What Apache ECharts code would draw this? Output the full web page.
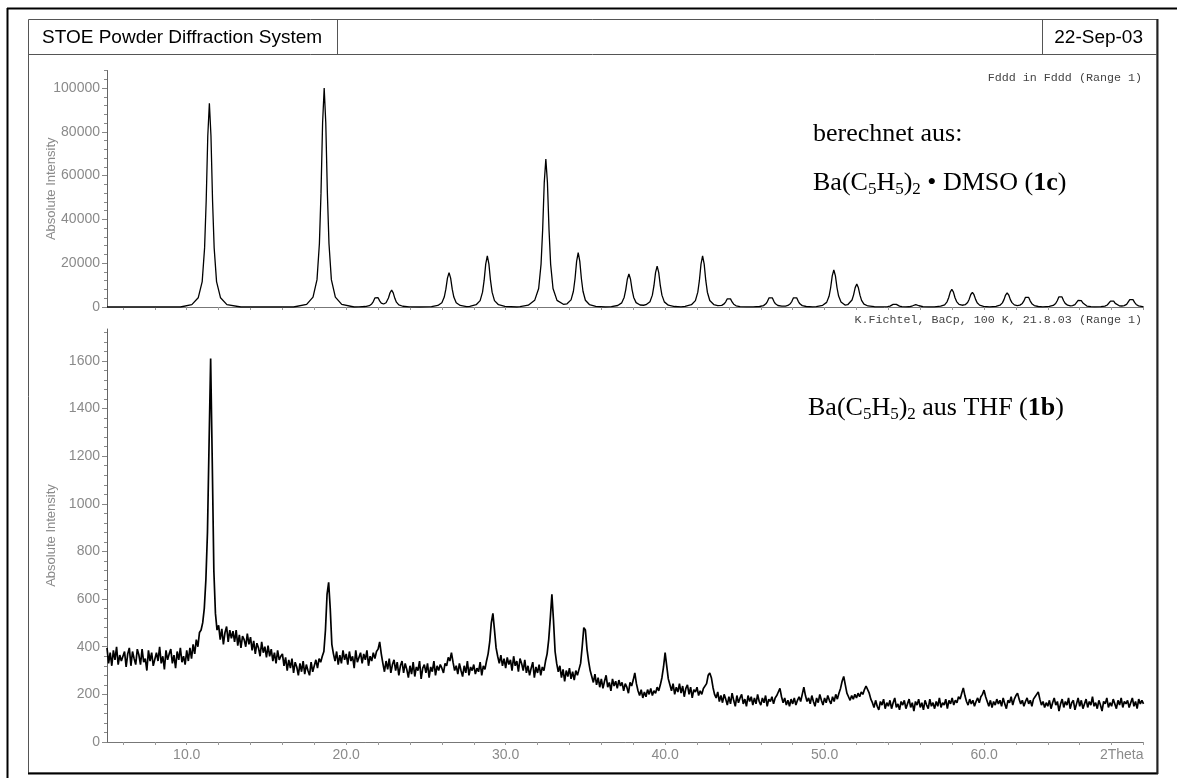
<!DOCTYPE html>
<html>
<head>
<meta charset="utf-8">
<title>STOE Powder Diffraction System</title>
<script src="https://cdn.jsdelivr.net/npm/echarts@6.0.0/dist/echarts.min.js"></script>
<style>
html, body { margin: 0; padding: 0; background: #fff; }
#main { width: 1177px; height: 778px; }
</style>
</head>
<body>
<div id="main"></div>
<script>
// 2Theta range and tick labels
var thetaMin = 5, thetaMax = 70;
var xLabelValues = [10, 20, 30, 40, 50, 60, 70];
var yLabelsTop = [0, 20000, 40000, 60000, 80000, 100000];
var yLabelsBottom = [0, 200, 400, 600, 800, 1000, 1200, 1400, 1600];
var yMaxTop = 108000, yMaxBottom = 1734;

// berechnet (Fddd in Fddd): [2Theta, intensity]
var calcPattern = [
  [5,0],[9.6,0],
  [10.32,1100],[10.72,4200],[10.97,11600],[11.12,27000],[11.22,48400],[11.32,78100],[11.42,93000],[11.52,78100],[11.62,48400],[11.72,27000],[11.87,11600],[12.12,4200],[12.52,1100],[13.4,0],
  [16.7,0],[17.52,1200],[17.92,4500],[18.17,12500],[18.32,29000],[18.42,52000],[18.52,84000],[18.62,100000],[18.72,84000],[18.82,52000],[18.92,29000],[19.07,12500],[19.32,4500],[19.72,1200],[20.5,0],
  [20.8,60],[21.2,220],[21.45,600],[21.6,1390],[21.7,2500],[21.8,4140],[21.9,4950],[22.0,4240],[22.1,2800],[22.2,1810],[22.35,1360],[22.5,1940],[22.65,4140],[22.75,6510],[22.85,7690],[22.95,6440],[23.05,3950],[23.15,2200],[23.3,950],[23.55,340],[23.95,90],[24.6,0],
  [25.35,190],[25.75,710],[26.0,1960],[26.15,4550],[26.25,8160],[26.35,13190],[26.45,15700],[26.55,13190],[26.65,8160],[26.75,4550],[26.9,1960],[27.15,710],[27.55,190],
  [27.75,280],[28.15,1050],[28.4,2910],[28.55,6760],[28.65,12120],[28.75,19570],[28.85,23300],[28.95,19570],[29.05,12120],[29.15,6760],[29.3,2910],[29.55,1050],[29.95,280],[30.7,0],
  [30.9,200],[31.42,810],[31.82,3040],[32.07,8450],[32.22,19600],[32.32,35150],[32.42,56780],[32.52,67600],[32.62,56780],[32.72,35150],[32.82,19600],[32.97,8450],[33.22,3040],[33.62,1230],
  [33.85,1460],[34.1,3240],[34.25,7190],[34.35,12900],[34.45,20830],[34.55,24800],[34.65,20830],[34.75,12900],[34.85,7190],[35.0,3100],[35.25,1120],[35.65,300],[36.25,0],
  [36.63,180],[37.03,680],[37.28,1890],[37.43,4380],[37.53,7850],[37.63,12680],[37.73,15100],[37.83,12680],[37.93,7850],[38.03,4380],[38.18,2000],[38.43,920],[38.65,800],
  [38.8,1040],[39.05,2420],[39.2,5420],[39.3,9720],[39.4,15710],[39.5,18700],[39.6,15710],[39.7,9720],[39.8,5420],[39.95,2340],[40.2,840],[40.6,220],[41.0,60],
  [41.25,280],[41.65,1050],[41.9,2910],[42.05,6760],[42.15,12120],[42.25,19570],[42.35,23300],[42.45,19570],[42.55,12120],[42.65,6760],[42.8,2950],[43.05,1140],[43.3,660],
  [43.55,760],[43.7,1400],[43.8,2370],[43.9,3750],[44.0,4400],[44.1,3700],[44.2,2290],[44.3,1280],[44.45,550],[44.7,200],[45.1,50],
  [45.52,60],[45.92,225],[46.17,625],[46.32,1450],[46.42,2600],[46.52,4200],[46.62,5000],[46.72,4200],[46.82,2600],[46.92,1450],[47.07,690],[47.32,375],
  [47.55,440],[47.7,690],[47.85,1480],[47.95,2600],[48.05,4200],[48.15,5000],[48.25,4200],[48.35,2600],[48.45,1450],[48.6,625],[48.85,225],[49.25,60],
  [49.48,200],[49.88,760],[50.13,2110],[50.28,4900],[50.38,8790],[50.48,14200],[50.58,16900],[50.68,14200],[50.78,8790],[50.88,5020],[51.03,2290],[51.28,900],
  [51.45,1050],[51.57,1500],[51.72,3200],[51.82,5560],[51.92,8850],[52.02,10490],[52.12,8740],[52.22,5410],[52.32,3020],[52.47,1300],[52.72,470],[53.12,125],[53.5,20],
  [53.7,60],[53.95,175],[54.1,400],[54.2,730],[54.3,1180],[54.4,1400],[54.5,1180],[54.6,730],[54.7,400],[54.85,175],[55.1,70],
  [55.3,110],[55.42,320],[55.52,570],[55.62,920],[55.72,1100],[55.82,920],[55.92,570],[56.02,320],[56.17,140],[56.5,30],
  [56.88,100],[57.28,365],[57.53,1010],[57.68,2350],[57.78,4210],[57.88,6800],[57.98,8100],[58.08,6800],[58.18,4210],[58.28,2460],[58.43,1200],[58.62,800],
  [58.82,1070],[58.97,2080],[59.07,3580],[59.17,5710],[59.27,6700],[59.37,5630],[59.47,3480],[59.57,1940],[59.72,840],[59.97,300],[60.35,80],
  [60.75,290],[61.0,810],[61.15,1890],[61.25,3380],[61.35,5460],[61.45,6500],[61.55,5460],[61.65,3380],[61.75,1990],[61.9,970],[62.08,660],
  [62.25,850],[62.4,1640],[62.5,2790],[62.6,4430],[62.7,5200],[62.8,4370],[62.9,2700],[63.0,1510],[63.15,650],[63.4,230],[63.69,80],
  [64.09,250],[64.34,690],[64.49,1600],[64.59,2860],[64.69,4620],[64.79,5500],[64.89,4620],[64.99,2860],[65.09,1660],[65.24,830],[65.42,550],
  [65.55,660],[65.7,1120],[65.8,1890],[65.9,2990],[66.0,3500],[66.1,2940],[66.2,1820],[66.3,1015],[66.45,440],[66.7,160],[66.93,60],
  [67.33,145],[67.58,400],[67.73,930],[67.83,1660],[67.93,2690],[68.03,3200],[68.13,2690],[68.23,1660],[68.33,1000],[68.48,560],[68.64,450],
  [68.79,630],[68.94,1220],[69.04,2120],[69.14,3360],[69.24,4000],[69.34,3360],[69.44,2080],[69.54,1160],[69.69,500],[69.94,180],[70,150]
];

// gemessen (K.Fichtel, BaCp, 100 K): counts every 0.1 deg from 5.0 to 70.0
var obsStart = 5.0, obsStep = 0.1;
var obsCounts = [
  395,330,375,320,385,345,400,325,365,340,
  340,380,315,370,395,320,380,350,325,390,
  365,325,390,335,350,300,385,340,375,320,
  325,375,340,400,330,360,305,385,345,370,
  390,330,365,310,380,345,395,335,360,325,
  385,340,395,350,410,370,430,400,460,470,
  500,560,680,880,1250,1610,1180,720,540,470,
  490,430,475,410,460,485,420,470,435,465,
  420,470,405,450,395,445,430,400,455,410,
  440,385,425,370,415,395,360,420,375,400,
  355,405,360,390,340,375,330,385,345,360,
  370,320,355,300,345,310,350,290,335,315,
  280,330,295,340,285,325,300,280,335,295,
  320,345,310,350,335,360,380,470,620,670,
  560,410,370,340,380,325,365,330,385,345,
  370,325,380,340,360,310,385,335,355,375,
  330,370,345,385,320,360,340,375,350,380,
  390,420,370,330,295,340,305,350,290,325,
  345,300,335,280,320,340,290,330,305,270,
  320,285,335,275,315,300,340,265,310,325,
  290,330,270,315,295,340,280,320,300,325,
  310,290,330,320,355,340,375,335,300,320,
  285,330,300,275,320,290,340,280,315,300,
  325,285,310,295,335,280,320,305,340,370,
  420,500,540,470,395,360,330,365,320,350,
  310,355,325,345,300,360,320,340,295,350,
  330,300,345,290,320,280,310,335,270,315,
  290,325,280,315,300,340,370,430,520,620,
  510,380,330,295,320,270,305,255,300,275,
  310,265,295,260,300,280,305,330,400,480,
  470,390,340,300,275,250,285,240,270,230,
  265,225,255,280,230,250,215,265,235,255,
  225,260,235,250,215,245,230,205,250,235,
  260,290,245,215,195,220,185,210,190,220,
  200,225,195,215,205,230,215,240,270,315,
  375,320,265,240,215,245,200,230,210,245,
  205,235,190,225,240,200,230,185,220,210,
  230,195,215,200,225,220,245,280,290,270,
  230,200,185,210,170,195,165,200,180,155,
  190,160,205,175,150,195,165,185,200,160,
  180,150,195,170,190,155,185,160,200,170,
  155,185,165,195,150,180,170,190,160,185,
  195,210,225,190,165,185,155,175,150,180,
  160,185,155,175,190,170,200,230,195,170,
  185,160,195,170,150,185,165,200,175,155,
  185,165,195,175,160,190,170,200,180,205,
  225,255,275,240,205,190,175,195,180,200,
  185,205,190,210,200,220,235,230,205,180,
  165,145,175,150,135,170,155,180,140,165,
  150,175,140,165,185,145,160,135,170,155,
  175,140,160,180,145,165,130,170,155,180,
  145,165,135,175,155,140,180,150,165,140,
  170,150,185,145,165,155,180,140,175,160,
  185,155,175,165,190,180,205,227,195,170,
  155,180,160,175,150,170,185,165,190,200,
  218,190,170,150,175,145,170,155,180,160,
  175,150,185,160,140,175,165,190,155,180,
  195,205,180,160,175,150,170,185,160,175,
  150,180,190,200,210,180,155,170,145,165,
  150,175,140,165,185,155,170,130,160,180,
  145,170,155,185,140,165,175,135,160,185,
  150,175,140,160,180,145,170,155,190,150,
  165,140,175,155,130,170,160,185,145,165,
  150,180,160,140,175,155,185,145,170,160,
  175,145,165,185,150,170,140,180,160,175,
  160
];

var obsData = obsCounts.map(function (v, i) {
  return [Number((obsStart + i * obsStep).toFixed(2)), v];
});

// kleine Ticks
var xMinorTicks = [];
for (var t = 6; t <= thetaMax; t += 2) xMinorTicks.push(t);
var yMinorTop = [];
for (var a = 0; a <= yMaxTop; a += 4000) yMinorTop.push(a);
var yMinorBottom = [];
for (var b = 0; b <= 1720; b += 40) yMinorBottom.push(b);

var grey = '#8a8a8a';
var sans = 'Liberation Sans';
var serif = 'Liberation Serif';
var mono = 'Liberation Mono';

function xAxisFor(idx, withLabels) {
  return {
    gridIndex: idx, type: 'value', min: thetaMin, max: thetaMax,
    axisLine: { lineStyle: { color: '#777', width: 1 } },
    axisTick: { customValues: xMinorTicks, length: 3, lineStyle: { color: '#999' } },
    axisLabel: withLabels ? {
      customValues: xLabelValues,
      formatter: function (v) { return v === 70 ? '2Theta' : v.toFixed(1); },
      color: grey, fontSize: 14, fontFamily: sans, margin: 6, alignMaxLabel: 'right'
    } : { show: false },
    splitLine: { show: false }
  };
}

function yAxisMinor(idx, max, minorTicks, labels) {
  return {
    gridIndex: idx, type: 'value', position: 'left', min: 0, max: max,
    axisLine: { show: true, lineStyle: { color: '#666', width: 1 } },
    axisTick: { customValues: minorTicks, length: 3, lineStyle: { color: '#888' } },
    axisLabel: {
      customValues: labels,
      formatter: function (v) { return String(v); },
      color: grey, fontSize: 14, fontFamily: sans, margin: 7
    },
    splitLine: { show: false },
    name: 'Absolute Intensity', nameLocation: 'middle', nameGap: 49, nameMoveOverlap: false,
    nameTextStyle: { color: grey, fontSize: 13, fontFamily: sans }
  };
}

function yAxisMajor(idx, max, labels) {
  return {
    gridIndex: idx, type: 'value', position: 'left', offset: 0, min: 0, max: max,
    axisLine: { show: false },
    axisTick: { customValues: labels, length: 5, lineStyle: { color: '#888' } },
    axisLabel: { show: false },
    splitLine: { show: false }
  };
}

var myChart = echarts.init(document.getElementById('main'), null, { renderer: 'canvas' });

var option = {
  animation: false,
  backgroundColor: '#fff',
  grid: [
    { left: 107, right: 33.5, top: 70.5, bottom: 471 },
    { left: 107, right: 33.5, top: 329, bottom: 36 }
  ],
  xAxis: [xAxisFor(0, false), xAxisFor(1, true)],
  yAxis: [
    yAxisMinor(0, yMaxTop, yMinorTop, yLabelsTop),
    yAxisMajor(0, yMaxTop, yLabelsTop),
    yAxisMinor(1, yMaxBottom, yMinorBottom, yLabelsBottom),
    yAxisMajor(1, yMaxBottom, yLabelsBottom)
  ],
  series: [
    {
      name: 'Fddd', type: 'line', xAxisIndex: 0, yAxisIndex: 0,
      data: calcPattern, symbol: 'none', silent: true,
      lineStyle: { color: '#000', width: 1.3 }
    },
    {
      name: 'BaCp', type: 'line', xAxisIndex: 1, yAxisIndex: 2,
      data: obsData, symbol: 'none', silent: true,
      lineStyle: { color: '#000', width: 1.7 }
    }
  ],
  graphic: [
    // aeusserer Rahmen
    { type: 'line', shape: { x1: 7.5, y1: 8, x2: 7.5, y2: 778 }, style: { stroke: '#000', lineWidth: 2 } },
    { type: 'line', shape: { x1: 7, y1: 8.5, x2: 1177, y2: 8.5 }, style: { stroke: '#000', lineWidth: 2 } },
    // innerer Rahmen
    { type: 'rect', shape: { x: 28.5, y: 19.5, width: 1128.5, height: 753.5 }, style: { fill: null, stroke: '#555', lineWidth: 1 } },
    { type: 'line', shape: { x1: 28, y1: 773.5, x2: 1158, y2: 773.5 }, style: { stroke: '#000', lineWidth: 2 } },
    { type: 'line', shape: { x1: 1157.5, y1: 19, x2: 1157.5, y2: 774 }, style: { stroke: '#222', lineWidth: 2 } },
    { type: 'line', shape: { x1: 28, y1: 54.5, x2: 1157, y2: 54.5 }, style: { stroke: '#555', lineWidth: 1 } },
    { type: 'line', shape: { x1: 337.5, y1: 19, x2: 337.5, y2: 54 }, style: { stroke: '#555', lineWidth: 1 } },
    { type: 'line', shape: { x1: 1042.5, y1: 19, x2: 1042.5, y2: 54 }, style: { stroke: '#555', lineWidth: 1 } },
    // Kopfzeile
    { type: 'text', x: 42, y: 38, style: { text: 'STOE Powder Diffraction System', fontSize: 19, fontFamily: sans, fill: '#000', verticalAlign: 'middle' } },
    { type: 'text', x: 1143, y: 38, style: { text: '22-Sep-03', fontSize: 19, fontFamily: sans, fill: '#000', align: 'right', verticalAlign: 'middle' } },
    // Bereichsbeschriftungen
    { type: 'text', x: 1142, y: 78, style: { text: 'Fddd in Fddd (Range 1)', fontSize: 11.7, fontFamily: mono, fill: '#444', align: 'right', verticalAlign: 'middle' } },
    { type: 'text', x: 1142, y: 320, style: { text: 'K.Fichtel, BaCp, 100 K, 21.8.03 (Range 1)', fontSize: 11.7, fontFamily: mono, fill: '#444', align: 'right', verticalAlign: 'middle' } },
    // Proben
    { type: 'text', x: 813, y: 134.5, style: { text: 'berechnet aus:', fontSize: 26, fontFamily: serif, fill: '#000', verticalAlign: 'middle' } },
    {
      type: 'text', x: 813, y: 183,
      style: {
        text: 'Ba(C{s|5}H{s|5}){s|2} \u2022 DMSO ({b|1c})',
        fontSize: 26, fontFamily: serif, fill: '#000', verticalAlign: 'middle', lineHeight: 30,
        rich: {
          s: { fontSize: 17, fontFamily: serif, fill: '#000', verticalAlign: 'bottom', lineHeight: 17 },
          b: { fontSize: 26, fontFamily: serif, fontWeight: 'bold', fill: '#000' }
        }
      }
    },
    {
      type: 'text', x: 808, y: 408,
      style: {
        text: 'Ba(C{s|5}H{s|5}){s|2} aus THF ({b|1b})',
        fontSize: 26, fontFamily: serif, fill: '#000', verticalAlign: 'middle', lineHeight: 30,
        rich: {
          s: { fontSize: 17, fontFamily: serif, fill: '#000', verticalAlign: 'bottom', lineHeight: 17 },
          b: { fontSize: 26, fontFamily: serif, fontWeight: 'bold', fill: '#000' }
        }
      }
    }
  ]
};

myChart.setOption(option);
</script>
</body>
</html>
